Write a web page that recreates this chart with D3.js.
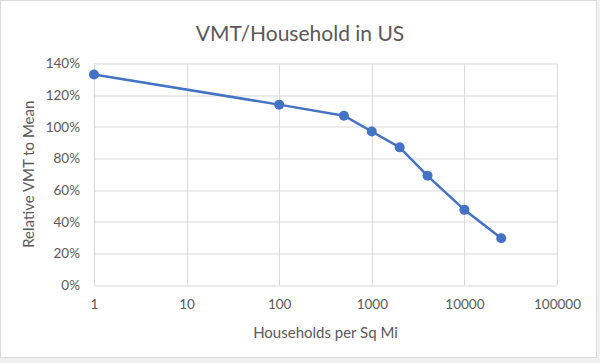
<!DOCTYPE html>
<html>
<head>
<meta charset="utf-8">
<script src="https://cdn.jsdelivr.net/npm/d3@7"></script>
<style>
    body { margin: 0; background: #f0f0f0; }
    svg { display: block; }
    text { font-family: Lato, "Open Sans", sans-serif; fill: #595959; }
</style>
</head>
<body>
<div id="chart"></div>
<script>
// data
let households = [1, 100, 500, 1000, 2000, 4000, 10000, 25000];
let relativeVmt = [1.33, 1.14, 1.07, 0.97, 0.87, 0.69, 0.475, 0.295];
let xTicks = [1, 10, 100, 1000, 10000, 100000];
let yTicks = [0, 0.2, 0.4, 0.6, 0.8, 1.0, 1.2, 1.4];

let width = 600, height = 363;
let margin = {top: 63.5, right: 43, bottom: 78, left: 94};
let innerW = width - margin.left - margin.right;
let innerH = height - margin.top - margin.bottom;

let svg = d3.select("#chart").append("svg")
    .attr("width", width)
    .attr("height", height);

// chart frame
svg.append("rect")
    .attr("x", 0.5).attr("y", 0.5)
    .attr("width", 596).attr("height", 357)
    .attr("fill", "#ffffff")
    .attr("stroke", "#d9d9d9");

// title
svg.append("text")
    .attr("x", 300).attr("y", 41)
    .attr("text-anchor", "middle")
    .style("font-size", "21px")
    .text("VMT/Household in US");

let g = svg.append("g")
    .attr("transform", `translate(${margin.left}, ${margin.top})`);

let x = d3.scaleLog().domain([1, 100000]).range([0, innerW]);
let y = d3.scaleLinear().domain([0, 1.4]).range([innerH, 0]);

// gridlines
g.append("g").selectAll("line")
    .data(yTicks)
    .join("line")
    .attr("x1", 0).attr("x2", innerW)
    .attr("y1", d => Math.round(y(d)) + 0.5).attr("y2", d => Math.round(y(d)) + 0.5)
    .attr("stroke", "#d9d9d9");

g.append("g").selectAll("line")
    .data(xTicks)
    .join("line")
    .attr("x1", d => Math.round(x(d)) + 0.5).attr("x2", d => Math.round(x(d)) + 0.5)
    .attr("y1", 0).attr("y2", innerH)
    .attr("stroke", "#d9d9d9");

// axes
let xAxis = d3.axisBottom(x)
    .tickValues(xTicks)
    .tickFormat(d3.format("d"))
    .tickSize(0)
    .tickPadding(14);
let yAxis = d3.axisLeft(y)
    .tickValues(yTicks)
    .tickFormat(d3.format(".0%"))
    .tickSize(0)
    .tickPadding(14);

g.append("g")
    .attr("transform", `translate(0, ${innerH})`)
    .call(xAxis)
    .call(a => a.select(".domain").remove())
    .selectAll("text").style("font-size", "13.5px").attr("fill", "#595959");

g.append("g")
    .call(yAxis)
    .call(a => a.select(".domain").remove())
    .selectAll("text").style("font-size", "13.5px").attr("fill", "#595959");

// axis titles
svg.append("text")
    .attr("x", margin.left + innerW / 2).attr("y", 338)
    .attr("text-anchor", "middle")
    .style("font-size", "15px")
    .text("Households per Sq Mi");

svg.append("text")
    .attr("transform", `translate(34, ${margin.top + innerH / 2}) rotate(-90)`)
    .attr("text-anchor", "middle")
    .style("font-size", "15px")
    .text("Relative VMT to Mean");

// series
let points = households.map((h, i) => ({h: h, v: relativeVmt[i]}));

let line = d3.line()
    .x(d => x(d.h))
    .y(d => y(d.v));

g.append("path")
    .datum(points)
    .attr("fill", "none")
    .attr("stroke", "#4472c4")
    .attr("stroke-width", 2.5)
    .attr("stroke-linejoin", "round")
    .attr("d", line);

g.selectAll("circle")
    .data(points)
    .join("circle")
    .attr("cx", d => x(d.h))
    .attr("cy", d => y(d.v))
    .attr("r", 5)
    .attr("fill", "#4472c4");
</script>
</body>
</html>
